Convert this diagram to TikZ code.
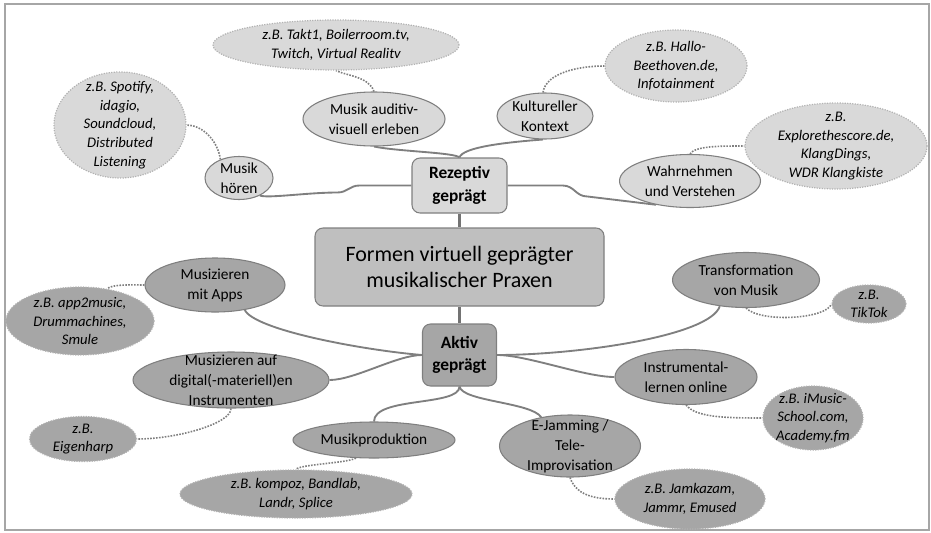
\documentclass[tikz,border=0pt]{standalone}
\usepackage{fontspec}
\setmainfont{Carlito}
\usetikzlibrary{shapes.geometric, backgrounds}

\definecolor{lightfill}{HTML}{D9D9D9}
\definecolor{midfill}{HTML}{BFBFBF}
\definecolor{darkfill}{HTML}{A6A6A6}
\definecolor{linegray}{HTML}{7F7F7F}

\begin{document}
\begin{tikzpicture}[x=0.75pt, y=-0.75pt,
    sz/.style 2 args={minimum width=#1*0.75pt, minimum height=#2*0.75pt},
    bubble/.style={ellipse, inner sep=0pt, draw=linegray, line width=0.8pt},
    light/.style={bubble, fill=lightfill},
    dark/.style={bubble, fill=darkfill},
    example/.style={ellipse, inner sep=0pt, draw=black!30, densely dotted, line width=0.9pt},
    ttext/.style={align=center, font=\fontsize{11.5}{15}\selectfont},
    etext/.style={align=center, font=\fontsize{11}{14}\selectfont\itshape},
    hub/.style={rectangle, rounded corners=6pt, draw=linegray, line width=0.8pt, align=center, font=\fontsize{13}{17}\selectfont\bfseries},
    branch/.style={draw=linegray, line width=1.4pt},
    hint/.style={draw=linegray, densely dotted, line width=1.2pt}]

    \useasboundingbox (0,0) rectangle (931,532);
    \draw[black!35, line width=0.8pt] (5,4) rectangle (929,530);

    \node[hub, fill=midfill, sz={289}{78}, font=\fontsize{16.5}{19.5}\selectfont] (formen) at (459.5,267) {Formen virtuell geprägter\\musikalischer Praxen};
    \node[hub, fill=lightfill, sz={95}{55}] (rez) at (459.5,185.5) {Rezeptiv\\geprägt};
    \node[hub, fill=darkfill, sz={74}{62}] (aktiv) at (459.5,355) {Aktiv\\geprägt};

    \node[light, sz={142}{54}, label={[ttext]center:Musik auditiv-\\visuell erleben}] (auditiv) at (374,119) {};
    \node[light, sz={96}{46}, label={[ttext]center:Kultureller\\Kontext}] (kontext) at (545,116) {};
    \node[light, sz={68}{43}, label={[ttext]center:Musik\\hören}] (hoeren) at (239,178) {};
    \node[light, sz={141}{53}, label={[ttext]center:Wahrnehmen\\und Verstehen}] (verstehen) at (690,181) {};

    \node[example, fill=lightfill, sz={246}{50}, label={[etext]center:{z.B. Takt1, Boilerroom.tv,\\Twitch, Virtual Realitv}}] (exTakt) at (336,45) {};
    \node[example, fill=lightfill, sz={142}{72}, label={[etext]center:{z.B. Hallo-\\Beethoven.de,\\Infotainment}}] (exHallo) at (676,66) {};
    \node[example, fill=lightfill, sz={132}{106}, label={[etext]center:{z.B. Spotify,\\idagio,\\Soundcloud,\\Distributed\\Listening}}] (exSpotify) at (120,125) {};
    \node[example, fill=lightfill, sz={182}{86}, label={[etext]center:{z.B.\\Explorethescore.de,\\KlangDings,\\WDR Klangkiste}}] (exExplore) at (836,146) {};

    \node[dark, sz={140}{54}, label={[ttext]center:Musizieren\\mit Apps}] (apps) at (215,285) {};
    \node[dark, sz={196}{56}, label={[ttext]center:Musizieren auf\\digital(-materiell)en\\Instrumenten}] (instr) at (231,380) {};
    \node[dark, sz={162}{36}, label={[ttext]center:Musikproduktion}] (produktion) at (374,440) {};
    \node[dark, sz={141}{62}, label={[ttext]center:E-Jamming /\\Tele-\\Improvisation}] (jamming) at (570,446) {};
    \node[dark, sz={142}{55}, label={[ttext]center:Instrumental-\\lernen online}] (online) at (686,377) {};
    \node[dark, sz={147}{55}, label={[ttext]center:Transformation\\von Musik}] (transform) at (746,280) {};

    \node[example, fill=darkfill, sz={148}{68}, label={[etext]center:{z.B. app2music,\\Drummachines,\\Smule}}] (exApps) at (80,321) {};
    \node[example, fill=darkfill, sz={107}{45}, label={[etext]center:{z.B.\\Eigenharp}}] (exEigen) at (83,439) {};
    \node[example, fill=darkfill, sz={232}{48}, label={[etext]center:{z.B. kompoz, Bandlab,\\Landr, Splice}}] (exKompoz) at (296,494) {};
    \node[example, fill=darkfill, sz={150}{60}, label={[etext]center:{z.B. Jamkazam,\\Jammr, Emused}}] (exJam) at (690,499) {};
    \node[example, fill=darkfill, sz={100}{64}, label={[etext]center:{z.B. iMusic-\\School.com,\\Academy.fm}}] (exImusic) at (813,418) {};
    \node[example, fill=darkfill, sz={74}{38}, label={[etext]center:{z.B.\\TikTok}}] (exTiktok) at (869,304) {};

    \begin{scope}[on background layer]
        \draw[branch, line width=2.2pt, draw=black!55] (rez.south) -- (formen.north);
        \draw[branch, line width=2.2pt, draw=black!55] (formen.south) -- (aktiv.north);

        \draw[branch] (rez.north) .. controls +(-5,-5) and +(25,5) .. (auditiv.south);
        \draw[branch] (rez.north) .. controls +(3,-10) and +(-40,3) .. (kontext.-95);
        \draw[branch] (rez.west) -- ++(-52,0) .. controls +(-10,0) and +(10,0) .. ++(-22,7) .. controls +(-30,0) and +(8,3) .. (hoeren.-40);
        \draw[branch] (rez.east) -- ++(55,0) .. controls +(12,0) and +(-12,0) .. ++(25,11) -- (verstehen.215);

        \draw[branch] (aktiv.west) .. controls +(-60,-5) and +(10,20) .. (apps.-40);
        \draw[branch] (aktiv.west) .. controls +(-25,0) and +(25,0) .. (instr.east);
        \draw[branch] (aktiv.east) .. controls +(80,0) and +(-10,30) .. (transform.225);
        \draw[branch] (aktiv.east) .. controls +(30,0) and +(-30,0) .. (online.west);
        \draw[branch] (aktiv.south) .. controls +(0,20) and +(0,-25) .. (produktion.north);
        \draw[branch] (aktiv.south) .. controls +(3,15) and +(-10,-15) .. (jamming.135);

        \draw[hint] (auditiv.north) .. controls +(-5,-15) and +(10,5) .. (exTakt.south);
        \draw[hint] (kontext.95) .. controls +(3,-20) and +(-25,0) .. (exHallo.west);
        \draw[hint] (hoeren.135) .. controls +(-3,-20) and +(15,0) .. (exSpotify.east);
        \draw[hint] (verstehen.north) .. controls +(5,-8) and +(-25,0) .. (exExplore.west);
        \draw[hint] (apps.west) .. controls +(-8,0) and +(5,-5) .. (exApps.50);
        \draw[hint] (instr.south) .. controls +(0,15) and +(40,0) .. (exEigen.east);
        \draw[hint] (produktion.225) .. controls +(-8,5) and +(3,-5) .. (exKompoz.north);
        \draw[hint] (jamming.south) .. controls +(5,15) and +(-25,0) .. (exJam.west);
        \draw[hint] (online.south) .. controls +(10,12) and +(-40,0) .. (exImusic.west);
        \draw[hint] (transform.south) .. controls +(15,15) and +(-5,15) .. (exTiktok.west);
    \end{scope}
\end{tikzpicture}
\end{document}
